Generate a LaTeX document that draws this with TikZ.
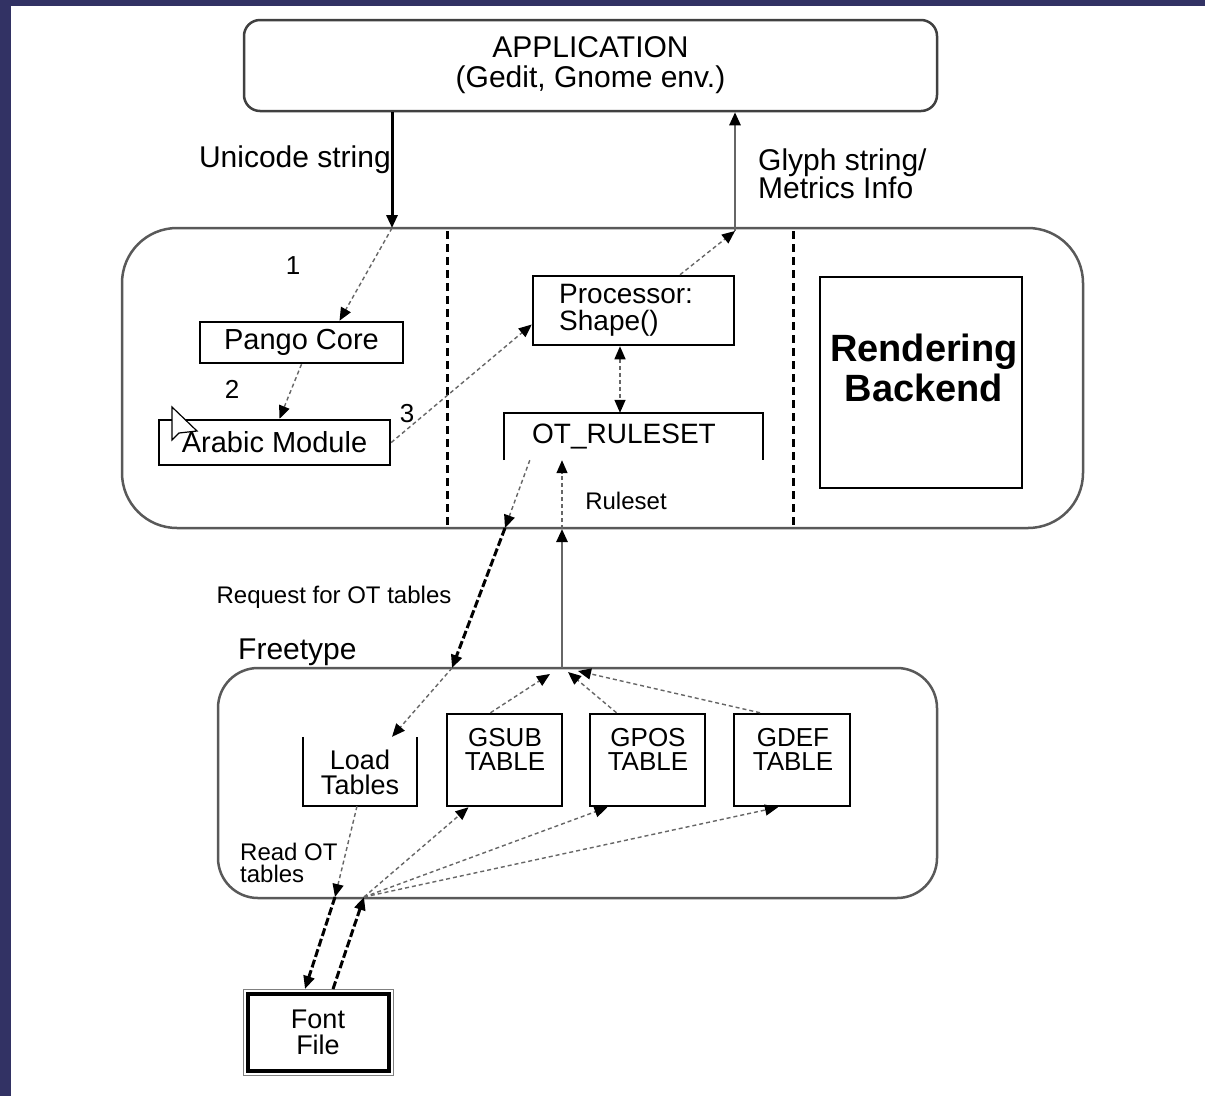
\documentclass[tikz,border=0pt]{standalone}
\usepackage{fontspec}
\setmainfont{Liberation Sans}
\usetikzlibrary{arrows.meta}
\definecolor{navy}{RGB}{50,50,100}
\newcommand\fsz[2]{\fontsize{#1}{#2}\selectfont}
\begin{document}
\begin{tikzpicture}[x=1pt,y=-1pt,
  font=\fsz{29}{30},
  box/.style={draw=black, line width=2.5pt, inner sep=0pt, align=center},
  openline/.style={draw=black, line width=2.5pt},
  region/.style={draw=black!65, line width=2.5pt, inner sep=0pt},
  arrtip/.style={-{Triangle[length=13pt,width=11pt,color=black]}},
  bothtip/.style={{Triangle[length=13pt,width=11pt,color=black]}-{Triangle[length=13pt,width=11pt,color=black]}},
  dotarrow/.style={draw=black!60, line width=1.4pt, dash pattern=on 4pt off 3pt, arrtip},
  thickarrow/.style={draw=black, line width=3pt, dash pattern=on 8pt off 3pt, arrtip},
  solidarrow/.style={draw=black!60, line width=2.5pt, arrtip},
  sep/.style={draw=black, line width=3pt, dash pattern=on 8pt off 5pt},
  lbl/.style={inner sep=0pt, align=left}]
\useasboundingbox (0,0) rectangle (1205,1096);
\fill[white] (0,0) rectangle (1205,1096);
\fill[navy] (0,0) rectangle (1205,6);
\fill[navy] (0,0) rectangle (11,1096);

% Application
\node[draw=black!75, line width=2.5pt, rounded corners=16pt, minimum width=693pt, minimum height=91pt, align=center, font=\fsz{30}{30}] (app) at (590.5,65.5) {APPLICATION\\(Gedit, Gnome env.)};

% regions
\node[region, rounded corners=55pt, minimum width=961pt, minimum height=300pt] (pango) at (602.5,378) {};
\node[region, rounded corners=40pt, minimum width=719pt, minimum height=230pt] (ft) at (577.5,783) {};

% separators
\draw[sep] (447,231) -- (447,527);
\draw[sep] (793,231) -- (793,527);

% Pango boxes
\node[box, minimum width=203pt, minimum height=41pt] (core) at (301.5,342.5) {Pango Core};
\node[box, minimum width=231pt, minimum height=45pt] (arabic) at (274.5,442.5) {Arabic Module};
\node[box, minimum width=201pt, minimum height=69pt] (proc) at (633.5,310.5) {};
\node[lbl, anchor=west, font=\fsz{28}{27}] (proctxt) at (559,310) {Processor:\\Shape()};
\node[inner sep=0pt, minimum width=259pt, minimum height=47pt] (ot) at (633.5,436.5) {};
\draw[openline] (ot.south west) -- (ot.north west) -- (ot.north east) -- (ot.south east);
\node[lbl, font=\fsz{28}{28}] (ottxt) at (624,436) {OT\_RULESET};
\node[box, minimum width=202pt, minimum height=211pt] (rend) at (921,382.5) {};
\node[lbl, align=center, font=\bfseries\fsz{38}{40}] (rendtxt) at (924,368) {Rendering\\Backend};

% cursor
\draw[black, line width=1.2pt, fill=white] (172,407) -- (172,440) -- (179,433) -- (197,431) -- cycle;

% labels
\node[lbl, anchor=east, font=\fsz{30}{30}] (ulbl) at (391,160) {Unicode string};
\node[lbl, anchor=west, font=\fsz{30}{28}] (glbl) at (758,174) {Glyph string/\\Metrics Info};
\node[lbl, font=\fsz{26}{26}] (n1) at (293,266) {1};
\node[lbl, font=\fsz{26}{26}] (n2) at (232,389) {2};
\node[lbl, font=\fsz{26}{26}] (n3) at (407,414) {3};
\node[lbl, font=\fsz{24}{24}] (rslbl) at (626,501) {Ruleset};
\node[lbl, font=\fsz{24}{24}] (reqlbl) at (334,597) {Request for OT tables};
\node[lbl, anchor=west, font=\fsz{30}{30}] (ftlbl) at (238,652) {Freetype};
\node[lbl, anchor=west, font=\fsz{24}{22}] (rdlbl) at (240,863) {Read OT\\tables};

% Freetype boxes
\node[inner sep=0pt, minimum width=114pt, minimum height=69pt] (load) at (360,771.5) {};
\draw[openline] (load.north west) -- (load.south west) -- (load.south east) -- (load.north east);
\node[lbl, align=center, font=\fsz{27}{25}] (loadtxt) at (360,772) {Load\\Tables};
\node[box, minimum width=115pt, minimum height=92pt] (gsub) at (504.5,760) {};
\node[box, minimum width=115pt, minimum height=92pt] (gpos) at (647.5,760) {};
\node[box, minimum width=116pt, minimum height=92pt] (gdef) at (792,760) {};
\node[lbl, align=center, font=\fsz{26}{24}] (gsubtxt) at (505,749) {GSUB\\TABLE};
\node[lbl, align=center, font=\fsz{26}{24}] (gpostxt) at (648,749) {GPOS\\TABLE};
\node[lbl, align=center, font=\fsz{26}{24}] (gdeftxt) at (793,749) {GDEF\\TABLE};

% Font file
\draw[draw=black!50, line width=1pt] (243,989) rectangle (393,1075);
\node[box, line width=4pt, minimum width=141pt, minimum height=77pt, font=\fsz{27}{26}] (ffile) at (318,1032) {Font\\File};

% coordinates
\coordinate (uniEnd) at (392,228);
\coordinate (glyphEnd) at (735,231);
\coordinate (reqA) at (505,528);
\coordinate (reqB) at (452,668);
\coordinate (rsA) at (562,529);
\coordinate (hub) at (562,668);
\coordinate (fh) at (364,897);
\coordinate (rd) at (335,897);
\coordinate (ffA) at (305,989);
\coordinate (ffB) at (333,989);

% connectors
\draw[draw=black, line width=3pt, arrtip] (app.south -| uniEnd) -- (uniEnd);
\draw[dotarrow] (uniEnd) -- ([xshift=38pt]core.north);
\draw[dotarrow] (core.south) -- ([xshift=5pt]arabic.north);
\draw[dotarrow] (arabic.east) -- ([yshift=-14pt]proc.west);
\draw[solidarrow] (glyphEnd) -- (app.south -| glyphEnd);
\draw[dotarrow] ([xshift=46.5pt]proc.north) -- (glyphEnd);
\draw[dotarrow, bothtip] ([xshift=-13.5pt]proc.south) -- ([xshift=-13.5pt]ot.north);
\draw[dotarrow] ([xshift=26pt]ot.south west) -- (reqA);
\draw[thickarrow] (reqA) -- (reqB);
\draw[dotarrow] (reqB) -- ([xshift=32pt]load.north);
\draw[solidarrow] (hub) -- (rsA);
\draw[dotarrow] (rsA) -- (ot.south -| rsA);
\draw[dotarrow] ([xshift=-14pt]gsub.north) -- ([xshift=-12pt,yshift=-6pt]hub);
\draw[dotarrow] ([xshift=-31pt]gpos.north) -- ([xshift=6pt,yshift=-4pt]hub);
\draw[dotarrow] ([xshift=-32pt]gdef.north) -- ([xshift=16pt,yshift=-3pt]hub);
\draw[dotarrow] (fh) -- ([xshift=-36pt]gsub.south);
\draw[dotarrow] (fh) -- ([xshift=-40pt]gpos.south);
\draw[dotarrow] (fh) -- ([xshift=-14pt]gdef.south);
\draw[dotarrow] ([xshift=-3pt]load.south) -- (rd);
\draw[thickarrow] (rd) -- (ffA);
\draw[thickarrow] (ffB) -- (fh);
\end{tikzpicture}
\end{document}
